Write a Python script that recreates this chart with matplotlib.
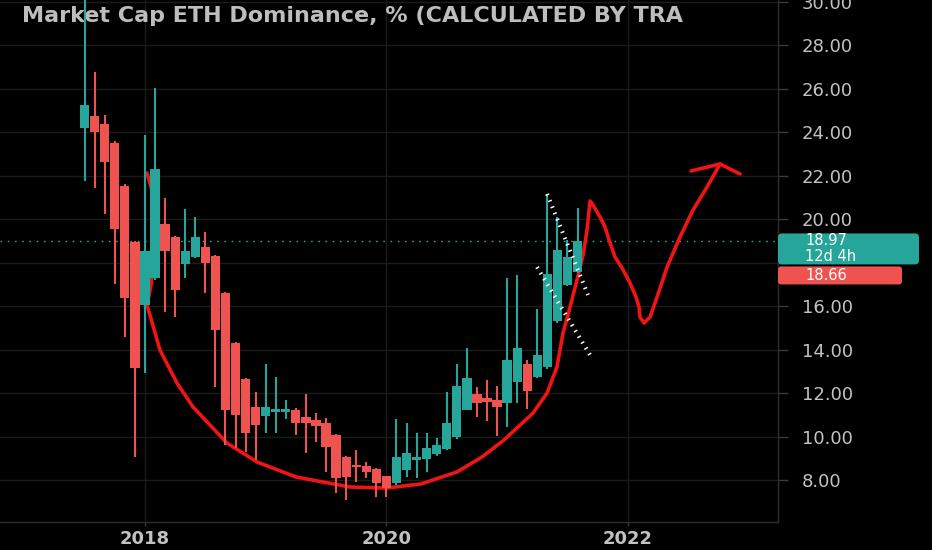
import matplotlib
matplotlib.use("Agg")
import matplotlib.pyplot as plt
import numpy as np
import pandas as pd
from matplotlib.patches import FancyBboxPatch
from matplotlib.transforms import IdentityTransform

# monthly candles, Jul 2017 .. Aug 2021
months = pd.date_range("2017-07-01", periods=50, freq="MS")
opens = [24.18, 24.74, 24.37, 23.49, 21.52, 18.94, 16.05, 17.29, 19.77, 19.17,
         17.93, 18.25, 18.71, 18.30, 16.60, 14.30, 12.64, 11.36, 10.94, 11.13,
         11.13, 11.22, 10.90, 10.76, 10.62, 10.07, 9.06, 8.66, 8.64, 8.50,
         8.18, 7.86, 8.46, 8.90, 8.97, 9.20, 9.43, 9.98, 11.22, 11.95,
         11.77, 11.68, 11.54, 12.51, 13.33, 12.74, 13.20, 15.31, 16.95, 17.56]
highs = [31.50, 26.76, 24.78, 23.60, 21.60, 19.00, 23.86, 26.02, 20.97, 19.20,
         20.46, 20.09, 19.40, 18.35, 16.65, 14.35, 12.70, 12.05, 13.33, 12.74,
         11.68, 11.30, 11.95, 11.08, 10.85, 10.10, 9.10, 9.38, 8.83, 8.55,
         8.20, 10.80, 10.62, 10.16, 10.16, 9.93, 12.05, 13.33, 14.07, 12.28,
         12.60, 12.32, 17.29, 17.43, 13.52, 15.86, 21.15, 20.09, 19.03, 20.51]
lows = [21.75, 21.43, 20.23, 17.01, 14.57, 9.06, 12.92, 17.20, 15.72, 15.49,
        17.29, 18.20, 16.60, 12.28, 9.61, 9.47, 9.29, 8.92, 10.16, 10.16,
        10.80, 10.07, 9.24, 9.75, 8.37, 7.40, 7.08, 7.90, 8.09, 7.22,
        7.22, 7.77, 8.14, 8.09, 8.37, 9.10, 9.40, 9.90, 11.20, 10.90,
        10.71, 10.02, 10.44, 11.54, 11.26, 12.70, 13.10, 15.20, 16.90, 17.50]
closes = [25.24, 24.00, 22.62, 19.54, 16.37, 13.15, 18.53, 22.30, 18.53, 16.74,
          18.53, 19.17, 17.98, 14.90, 11.22, 10.99, 10.16, 10.53, 11.36, 11.25,
          11.27, 10.62, 10.62, 10.48, 9.52, 8.09, 8.14, 8.62, 8.37, 7.86,
          7.63, 9.06, 9.24, 9.05, 9.47, 9.60, 10.62, 12.32, 12.69, 11.54,
          11.59, 11.36, 13.52, 14.07, 12.09, 13.75, 17.47, 18.57, 18.25, 18.97]

# hand drawn cup + projection (fractional year, value)
cup_years = [2018.017, 2018.058, 2018.083, 2018.050, 2018.017, 2018.124, 2018.265,
             2018.398, 2018.679, 2018.928, 2019.251, 2019.698, 2019.997, 2020.287,
             2020.585, 2020.792, 2020.974, 2021.215, 2021.331, 2021.413, 2021.463,
             2021.521, 2021.579, 2021.629, 2021.662, 2021.687, 2021.712, 2021.770,
             2021.811, 2021.853, 2021.894, 2021.952, 2022.018, 2022.068, 2022.093,
             2022.101, 2022.134, 2022.184, 2022.242, 2022.325, 2022.432, 2022.540,
             2022.656, 2022.764]
cup_values = [22.11, 21.33, 19.03, 16.97, 16.05, 13.98, 12.46,
              11.36, 9.70, 8.83, 8.14, 7.68, 7.63, 7.82,
              8.37, 9.06, 9.84, 11.08, 12.00, 13.20, 14.76,
              15.95, 17.20, 18.34, 19.49, 20.83, 20.64, 20.09,
              19.63, 18.90, 18.25, 17.75, 17.06, 16.41, 15.95,
              15.49, 15.22, 15.49, 16.41, 17.79, 19.17, 20.41,
              21.47, 22.53]
arrow_years = [2022.524, 2022.764, 2022.930]
arrow_values = [22.21, 22.53, 22.07]

upper_trend_years = [2021.331, 2021.670]
upper_trend_values = [21.15, 16.51]
lower_trend_years = [2021.248, 2021.687]
lower_trend_values = [17.79, 13.75]

last_price = 18.97
last_text = "18.97\n12d 4h"
prev_text = "18.66"
price_ticks = np.arange(8, 31, 2)
hidden_ticks = [18]  # covered by the price labels
year_ticks = [2018, 2020, 2022]
title = "Market Cap ETH Dominance, % (CALCULATED BY TRA"

TEAL = "#26a69a"
RED = "#ef5350"
TXT = "#c2c2c2"

fig = plt.figure(figsize=(9.32, 5.5), dpi=100, facecolor="black")
ax = fig.add_axes([0, 28 / 550, 778 / 932, 522 / 550])
ax.set_facecolor("black")

t = months.year + (months.month - 1) / 12
o = np.array(opens)
c = np.array(closes)
up = c >= o
colors = np.where(up, TEAL, RED)
body_h = np.maximum(np.abs(c - o), 0.07)

ax.plot(cup_years, cup_values, color="#f01414", lw=2.6, solid_capstyle="round",
        solid_joinstyle="round", zorder=2)
ax.plot(arrow_years, arrow_values, color="#f01414", lw=2.6, solid_capstyle="round",
        solid_joinstyle="round", zorder=2)

ax.vlines(t, lows, highs, colors=colors, lw=1.5, zorder=3)
ax.bar(t, body_h, bottom=np.minimum(o, c), width=0.92 / 12, color=colors,
       linewidth=0, zorder=3)

for xs, ys in [(upper_trend_years, upper_trend_values),
               (lower_trend_years, lower_trend_values)]:
    ax.plot(xs, ys, color="white", lw=2.9, ls=(0, (0.37, 1.3)),
            dash_capstyle="butt", zorder=4)

ax.axhline(last_price, color=TEAL, lw=1, ls=(0, (1.2, 4)), zorder=1)

ax.set_xlim(2016.799, 2023.244)
ax.set_ylim(6.07, 30.07)

ax.grid(True, color="#1b1b1b", lw=1)
ax.set_axisbelow(True)
for s in ["top", "left"]:
    ax.spines[s].set_visible(False)
for s in ["right", "bottom"]:
    ax.spines[s].set_color("#2e2e2e")
    ax.spines[s].set_linewidth(1)

ax.yaxis.tick_right()
ax.set_yticks(price_ticks)
ax.set_yticklabels(["" if v in hidden_ticks else f"{v:.2f}" for v in price_ticks])
ax.tick_params(axis="y", length=7, width=1, color="#3a3a3a", pad=10,
               labelsize=13, labelcolor=TXT)
ax.set_xticks(year_ticks)
ax.set_xticklabels([str(y) for y in year_ticks])
ax.tick_params(axis="x", length=3, width=1, color="#3a3a3a", pad=3,
               labelsize=13, labelcolor=TXT)
for lab in ax.get_xticklabels():
    lab.set_fontweight("bold")

ax.text(22 / 778, 1 - 16.5 / 522, title, transform=ax.transAxes, ha="left",
        va="center", fontsize=16, fontweight="bold", color="#bdbdbd",
        clip_on=True, zorder=2.5)

# price scale labels for last value / previous close
fig.canvas.draw()
y_last = ax.transData.transform((2020, last_price))[1]
x0 = ax.transAxes.transform((1, 0))[0]
box = FancyBboxPatch((x0, y_last - 23), 141, 31,
                     boxstyle="round,pad=0,rounding_size=4",
                     transform=IdentityTransform(), facecolor=TEAL,
                     edgecolor="none", zorder=5)
fig.patches.append(box)
box2 = FancyBboxPatch((x0, y_last - 43), 124, 18,
                      boxstyle="round,pad=0,rounding_size=3",
                      transform=IdentityTransform(), facecolor=RED,
                      edgecolor="none", zorder=5)
fig.patches.append(box2)
fig.text(x0 + 27, y_last + 8, last_text, transform=IdentityTransform(),
         color="white", fontsize=10.5, va="top", ha="left", linespacing=1.05,
         zorder=6)
fig.text(x0 + 27, y_last - 34, prev_text, transform=IdentityTransform(),
         color="white", fontsize=10.5, va="center", ha="left", zorder=6)

fig.savefig("out.png", dpi=100, facecolor="black")
